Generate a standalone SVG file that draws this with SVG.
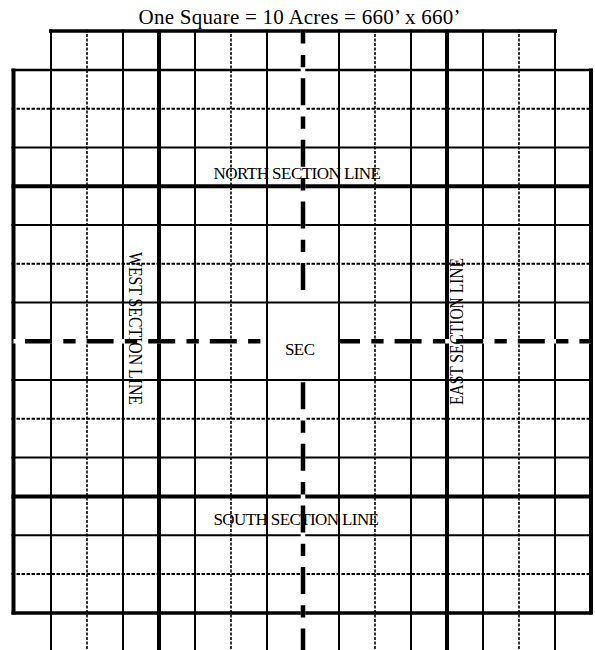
<svg xmlns="http://www.w3.org/2000/svg" width="595" height="650" viewBox="0 0 595 650">
  <style>
    .thin { stroke: #000; stroke-width: 2; fill: none; }
    .thick { stroke: #000; stroke-width: 4; fill: none; }
    .dh { stroke: #000; stroke-width: 2; stroke-dasharray: 3.5 1.5; fill: none; }
    .dv { stroke: #000; stroke-width: 1.6; stroke-dasharray: 3 1.5; fill: none; }
    .under { stroke: #fff; stroke-width: 4.5; fill: none; }
    .center { stroke: #000; stroke-width: 4.5; stroke-dasharray: 27 11.3 12.3 11; fill: none; }
    .lbl { font-family: "Liberation Serif", "Times New Roman", serif; font-size: 17px; fill: #000; }
    .rot { font-size: 18px; }
  </style>
  <rect width="595" height="650" fill="#fff"/>

  <g id="grid">
    <!-- horizontal lines -->
    <line x1="49" y1="31" x2="557" y2="31" class="thick" style="stroke-width:3.5"/>
    <line x1="11.5" y1="70" x2="592.5" y2="70" class="thin" style="stroke-width:2.5"/>
    <line x1="11.5" y1="108.7" x2="592.5" y2="108.7" class="dh"/>
    <line x1="11.5" y1="147.4" x2="592.5" y2="147.4" class="thin"/>
    <line x1="11.5" y1="186.2" x2="592.5" y2="186.2" class="thick"/>
    <line x1="11.5" y1="225" x2="592.5" y2="225" class="thin"/>
    <line x1="11.5" y1="263.8" x2="592.5" y2="263.8" class="dh"/>
    <line x1="11.5" y1="302.5" x2="592.5" y2="302.5" class="thin"/>
    <line x1="11.5" y1="380" x2="592.5" y2="380" class="thin"/>
    <line x1="11.5" y1="418.8" x2="592.5" y2="418.8" class="dh"/>
    <line x1="11.5" y1="457.6" x2="592.5" y2="457.6" class="thin"/>
    <line x1="11.5" y1="496.5" x2="592.5" y2="496.5" class="thick"/>
    <line x1="11.5" y1="535.3" x2="592.5" y2="535.3" class="thin"/>
    <line x1="11.5" y1="574.1" x2="592.5" y2="574.1" class="dh"/>
    <line x1="11.5" y1="613" x2="592.5" y2="613" class="thick" style="stroke-width:3.5"/>

    <!-- vertical lines -->
    <line x1="51" y1="29.5" x2="51" y2="650" class="thin"/>
    <line x1="87" y1="29.5" x2="87" y2="650" class="dv"/>
    <line x1="123" y1="29.5" x2="123" y2="650" class="thin"/>
    <line x1="159" y1="29.5" x2="159" y2="650" class="thick"/>
    <line x1="195" y1="29.5" x2="195" y2="650" class="thin"/>
    <line x1="231" y1="29.5" x2="231" y2="650" class="dv"/>
    <line x1="267" y1="29.5" x2="267" y2="650" class="thin"/>
    <line x1="339" y1="29.5" x2="339" y2="650" class="thin"/>
    <line x1="375" y1="29.5" x2="375" y2="650" class="dv"/>
    <line x1="411" y1="29.5" x2="411" y2="650" class="thin"/>
    <line x1="447" y1="29.5" x2="447" y2="650" class="thick"/>
    <line x1="483" y1="29.5" x2="483" y2="650" class="thin"/>
    <line x1="519" y1="29.5" x2="519" y2="650" class="dv"/>
    <line x1="555" y1="29.5" x2="555" y2="650" class="thin"/>

    <!-- outer borders -->
    <line x1="13.5" y1="68.5" x2="13.5" y2="614.5" class="thick"/>
    <line x1="591" y1="68.5" x2="591" y2="614.5" class="thick"/>
  </g>

  <g id="connectors">
    <!-- center horizontal line, left part -->
    <line x1="13.5" y1="341.2" x2="265" y2="341.2" class="under"/>
    <line x1="14" y1="341.2" x2="262" y2="341.2" class="center" stroke-dashoffset="-11"/>
    <!-- center horizontal line, right part -->
    <line x1="340" y1="341.2" x2="591" y2="341.2" class="under"/>
    <line x1="340" y1="341.2" x2="591" y2="341.2" class="center" stroke-dashoffset="7"/>
    <!-- center vertical line, top part -->
    <line x1="303" y1="31" x2="303" y2="301" class="under"/>
    <line x1="303" y1="31" x2="303" y2="301" class="center" stroke-dashoffset="14.4"/>
    <!-- center vertical line, bottom part -->
    <line x1="303" y1="381.2" x2="303" y2="650" class="under"/>
    <line x1="303" y1="381.2" x2="303" y2="650" class="center" stroke-dashoffset="-1"/>
  </g>

  <g id="title">
    <text x="138.5" y="24" class="lbl" style="font-size:21px" textLength="322">One Square = 10 Acres = 660’ x 660’</text>
  </g>
  <g id="north-label">
    <text x="213.5" y="179" class="lbl" textLength="167.5">NORTH SECTION LINE</text>
  </g>
  <g id="south-label">
    <text x="213.5" y="525" class="lbl" textLength="165.5">SOUTH SECTION LINE</text>
  </g>
  <g id="sec-label">
    <text x="285" y="355" class="lbl" textLength="30">SEC</text>
  </g>
  <g id="west-label">
    <text transform="translate(129,252) rotate(90)" x="0" y="0" class="lbl rot" textLength="153" lengthAdjust="spacingAndGlyphs">WEST SECTION LINE</text>
  </g>
  <g id="east-label">
    <text transform="translate(463,405) rotate(-90)" x="0" y="0" class="lbl rot" textLength="147" lengthAdjust="spacingAndGlyphs">EAST SECTION LINE</text>
  </g>
</svg>
